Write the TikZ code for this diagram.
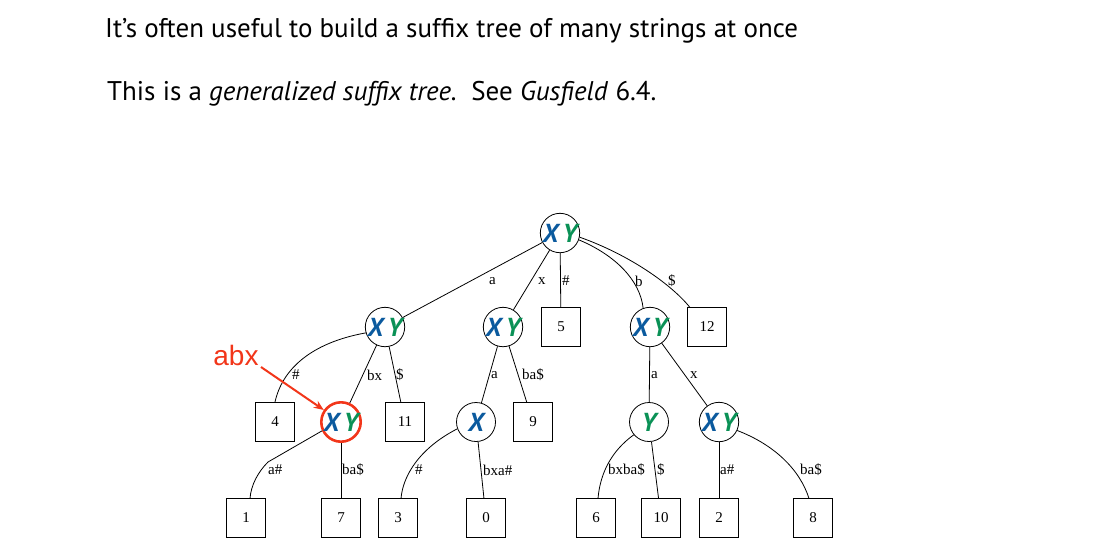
\documentclass[tikz,border=0pt]{standalone}
\usepackage{fontspec}
\usetikzlibrary{arrows.meta}
\setmainfont{Liberation Serif}
\newfontfamily\titlefont{PT Sans}
\newfontfamily\xyfont{PT Sans}
\newfontfamily\abxfont{Liberation Sans}
\definecolor{xblue}{HTML}{0B5A9E}
\definecolor{ygreen}{HTML}{0A9156}
\definecolor{hired}{HTML}{F2361A}
\tikzset{
  inode/.style={circle,draw,line width=0.8pt,minimum size=39pt,inner sep=0pt,font=\xyfont\bfseries\itshape\fontsize{26}{26}\selectfont},
  leaf/.style={rectangle,draw,line width=0.8pt,minimum size=39pt,inner sep=0pt,font=\fontsize{15}{15}\selectfont},
  edge/.style={line width=0.8pt},
  elab/.style={anchor=west,inner sep=0pt,font=\fontsize{15}{15}\selectfont},
  title/.style={anchor=base west,inner sep=0pt,font=\titlefont\fontsize{27}{27}\selectfont}
}
\newcommand{\XY}{{\color{xblue}X}\,{\color{ygreen}Y}}
\newcommand{\Xo}{{\color{xblue}X}}
\newcommand{\Yo}{{\color{ygreen}Y}}
\begin{document}
\begin{tikzpicture}[x=1pt,y=-1pt]
\useasboundingbox (0,0) rectangle (1098,552);
% title
\node[title] (t1) at (105,37) {It’s often useful to build a suffix tree of many strings at once};
\node[title] (t2) at (107,100) {This is a \textit{generalized suffix tree.}\ \ See \textit{Gusfield} 6.4.};
% nodes
\node[inode] (r) at (560,233) {\XY};
\node[inode] (a) at (385,327) {\XY};
\node[inode] (x) at (503,327) {\XY};
\node[leaf] (l5) at (561,327) {5};
\node[inode] (b) at (650,327) {\XY};
\node[leaf] (l12) at (707,327) {12};
\node[leaf] (l4) at (275,422) {4};
\node[inode,draw=hired,line width=2.6pt] (abx) at (341,422) {\XY};
\node[leaf] (l11) at (405,422) {11};
\node[inode] (xa) at (476,422) {\Xo};
\node[leaf] (l9) at (533,422) {9};
\node[inode] (ba) at (649,422) {\Yo};
\node[inode] (bx) at (719,422) {\XY};
\node[leaf] (l1) at (246,518) {1};
\node[leaf] (l7) at (341,518) {7};
\node[leaf] (l3) at (398,518) {3};
\node[leaf] (l0) at (486,518) {0};
\node[leaf] (l6) at (596,518) {6};
\node[leaf] (l10) at (661,518) {10};
\node[leaf] (l2) at (719,518) {2};
\node[leaf] (l8) at (813,518) {8};
% edges
\draw[edge] (r) -- (a);
\draw[edge] (r) -- (x);
\draw[edge] (r) -- (l5);
\draw[edge] (r.-20) .. controls (615,255) and (640,280) .. (b.110);
\draw[edge] (r.-12) .. controls (630,255) and (672,285) .. (690,307.5);
\draw[edge] (a.197) .. controls (310,343) and (282,370) .. (l4.north);
\draw[edge] (a) -- (abx);
\draw[edge] (a) -- (l11);
\draw[edge] (x) -- (xa);
\draw[edge] (x) -- (l9);
\draw[edge] (b) -- (ba);
\draw[edge] (b) -- (bx);
\draw[edge] (abx.205) -- (268,462) .. controls (258,472) and (251,485) .. (250,498.5);
\draw[edge] (abx) -- (l7);
\draw[edge] (xa.200) .. controls (420,448) and (403,475) .. (401,498.5);
\draw[edge] (xa) -- (l0);
\draw[edge] (ba.220) .. controls (610,452) and (600,475) .. (598,498.5);
\draw[edge] (ba) -- (l10);
\draw[edge] (bx) -- (l2);
\draw[edge] (bx.-25) .. controls (775,445) and (800,470) .. (809,498.5);
% edge labels
\node[elab] (ea1) at (489,281) {a};
\node[elab] (ea2) at (538,281) {x};
\node[elab] (ea3) at (562,281) {\#};
\node[elab] (ea4) at (635,281) {b};
\node[elab] (ea5) at (668,281) {\$};
\node[elab] (eb1) at (292,375) {\#};
\node[elab] (eb2) at (367,375) {bx};
\node[elab] (eb3) at (396,375) {\$};
\node[elab] (eb4) at (491,375) {a};
\node[elab] (eb5) at (522,375) {ba\$};
\node[elab] (eb6) at (651,375) {a};
\node[elab] (eb7) at (690,375) {x};
\node[elab] (ec1) at (268,470) {a\#};
\node[elab] (ec2) at (342,470) {ba\$};
\node[elab] (ec3) at (415,470) {\#};
\node[elab] (ec4) at (483,470) {bxa\#};
\node[elab] (ec5) at (608,470) {bxba\$};
\node[elab] (ec6) at (657,470) {\$};
\node[elab] (ec7) at (720,470) {a\#};
\node[elab] (ec8) at (800,470) {ba\$};
% annotation
\node[font=\abxfont\fontsize{28}{28}\selectfont,text=hired,inner sep=0pt] (lab) at (236,355) {abx};
\draw[hired,line width=2pt,-{Stealth[length=10pt,width=8pt]}] (261,367) -- (abx.145);
\end{tikzpicture}
\end{document}
